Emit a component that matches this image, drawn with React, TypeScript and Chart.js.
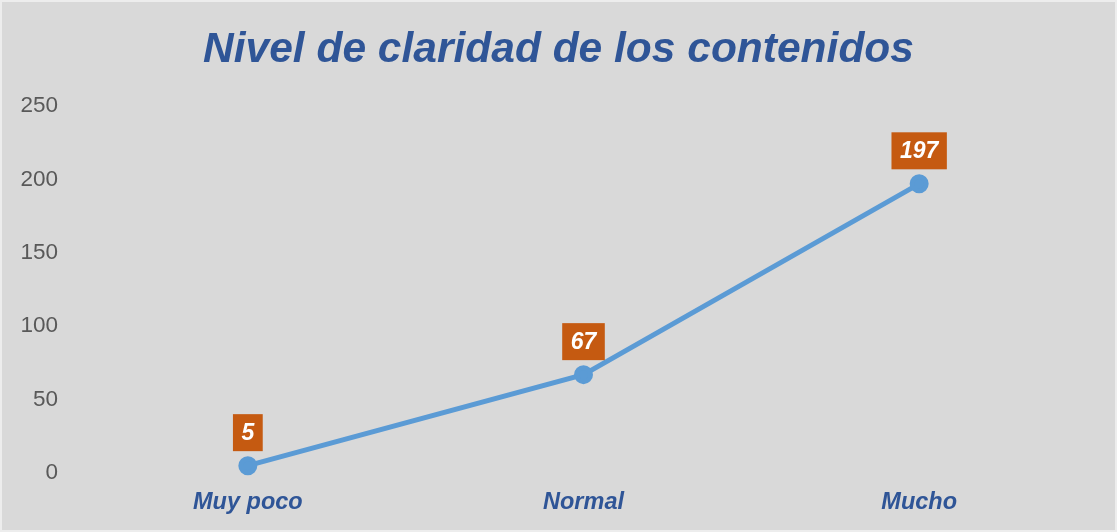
import React, { useEffect, useRef } from "react";
import { Chart, registerables } from "chart.js";

Chart.register(...registerables);

const categories = ["Muy poco", "Normal", "Mucho"];
const values = [5, 67, 197];
const titleText = "Nivel de claridad de los contenidos";

const FONT = "'Liberation Sans', Arial, sans-serif";

const labelPlugin = {
  id: "boxLabels",
  afterDatasetsDraw(chart: any) {
    const ctx = chart.ctx;
    const meta = chart.getDatasetMeta(0);
    ctx.save();
    ctx.font = `italic bold 23px ${FONT}`;
    meta.data.forEach((pt: any, i: number) => {
      const txt = String(values[i]);
      const w = ctx.measureText(txt).width + 17;
      const h = 37;
      const cx = pt.x;
      const cy = pt.y - 33;
      ctx.fillStyle = "#c55a11";
      ctx.fillRect(cx - w / 2, cy - h / 2, w, h);
      ctx.fillStyle = "#ffffff";
      ctx.textAlign = "center";
      ctx.textBaseline = "middle";
      ctx.fillText(txt, cx, cy + 1);
    });
    ctx.restore();
  },
};

export default function App() {
  const ref = useRef<HTMLCanvasElement>(null);
  useEffect(() => {
    if (!ref.current) return;
    const chart = new Chart(ref.current, {
      type: "line",
      data: {
        labels: categories,
        datasets: [
          {
            data: values,
            borderColor: "#5b9bd5",
            backgroundColor: "#5b9bd5",
            borderWidth: 5,
            pointRadius: 7,
            pointHoverRadius: 7,
            pointBackgroundColor: "#5b9bd5",
            pointBorderColor: "#5b9bd5",
            tension: 0,
            clip: false,
          },
        ],
      },
      options: {
        animation: false,
        responsive: true,
        maintainAspectRatio: false,
        layout: { padding: 0 },
        plugins: {
          legend: { display: false },
          tooltip: { enabled: false },
          title: {
            display: true,
            text: titleText,
            color: "#2f5597",
            font: { family: FONT, size: 42.5, weight: "bold", style: "italic" },
            padding: { top: 23, bottom: 30 },
          },
        },
        scales: {
          x: {
            offset: true,
            grid: { display: false },
            border: { display: false },
            ticks: {
              color: "#2f5597",
              font: { family: FONT, size: 23.5, weight: "bold", style: "italic" },
              padding: 7,
            },
            afterFit(scale: any) {
              scale.height = 57;
            },
          },
          y: {
            min: 0,
            max: 250,
            grid: { display: false },
            border: { display: false },
            ticks: {
              stepSize: 50,
              color: "#595959",
              font: { family: FONT, size: 22.5 },
              padding: 14,
            },
            afterFit(scale: any) {
              scale.width = 78;
            },
          },
          yRight: {
            position: "right",
            min: 0,
            max: 250,
            grid: { display: false },
            border: { display: false },
            ticks: { display: false },
            afterFit(scale: any) {
              scale.width = 28;
            },
          },
        },
      },
      plugins: [labelPlugin],
    } as any);
    return () => chart.destroy();
  }, []);
  return (
    <div
      style={{
        position: "fixed",
        left: 0,
        top: 0,
        width: 1117,
        height: 532,
        boxSizing: "border-box",
        border: "2px solid #ededed",
        background: "#d9d9d9",
      }}
    >
      <canvas ref={ref} />
    </div>
  );
}
